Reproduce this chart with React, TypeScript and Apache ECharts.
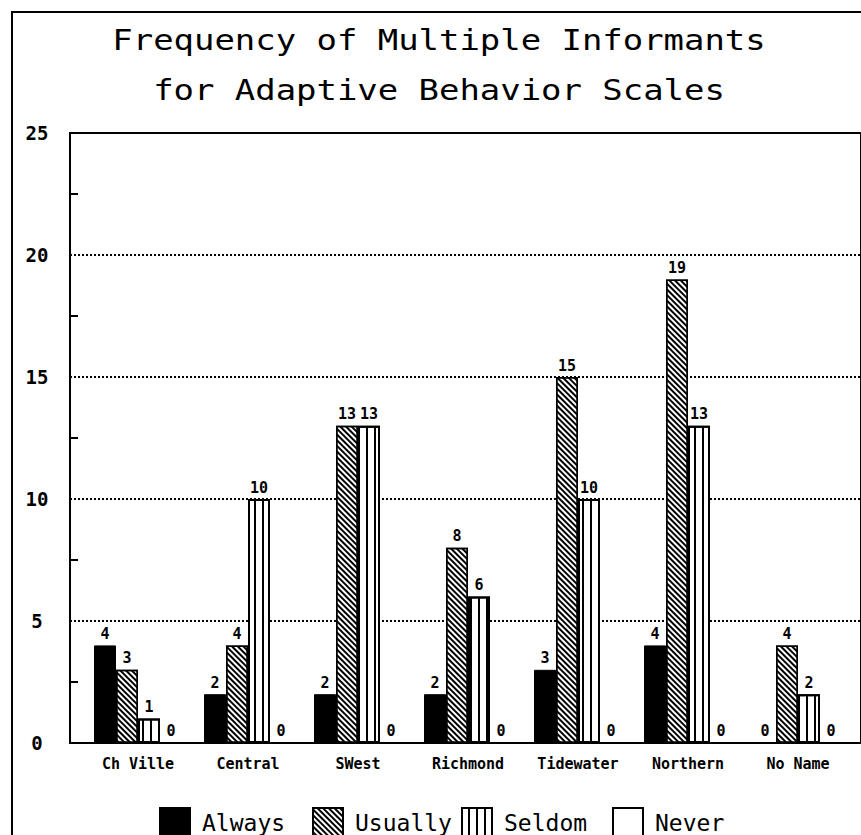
import React, { useEffect, useRef } from "react";
import * as echarts from "echarts";

const categories = ["Ch Ville", "Central", "SWest", "Richmond", "Tidewater", "Northern", "No Name"];
const always = [4, 2, 2, 2, 3, 4, 0];
const usually = [3, 4, 13, 8, 15, 19, 4];
const seldom = [1, 10, 13, 6, 10, 13, 2];
const never = [0, 0, 0, 0, 0, 0, 0];
const titleLines = ["Frequency of Multiple Informants", "for Adaptive Behavior Scales"];
const legendNames = ["Always", "Usually", "Seldom", "Never"];

const MONO = "'DejaVu Sans Mono', monospace";

export default function App() {
  const ref = useRef<HTMLDivElement>(null);
  useEffect(() => {
    const chart = echarts.init(ref.current!, null, { renderer: "svg" });
    const label = {
      show: true,
      position: "top",
      distance: 4,
      color: "#000",
      fontFamily: MONO,
      fontWeight: "bold",
      fontSize: 15,
    };
    const legendPos = [154, 307, 456, 607];
    const option: any = {
      animation: false,
      backgroundColor: "#fff",
      graphic: [
        {
          type: "rect",
          shape: { x: 12, y: 12, width: 900, height: 900 },
          style: { fill: "none", stroke: "#000", lineWidth: 2 },
          silent: true,
        },
        {
          type: "text",
          x: 439,
          y: 40,
          scaleX: 1.17,
          style: {
            text: titleLines[0],
            fontFamily: MONO,
            fontSize: 29,
            fill: "#000",
            textAlign: "center",
            textVerticalAlign: "middle",
          },
        },
        {
          type: "text",
          x: 439,
          y: 90,
          scaleX: 1.17,
          style: {
            text: titleLines[1],
            fontFamily: MONO,
            fontSize: 29,
            fill: "#000",
            textAlign: "center",
            textVerticalAlign: "middle",
          },
        },
      ],
      legend: legendNames.map((n, i) => ({
        data: [n],
        left: legendPos[i],
        top: 802,
        itemWidth: 30,
        itemHeight: 30,
        icon: "rect",
        selectedMode: false,
        textStyle: {
          fontFamily: MONO,
          fontSize: 23,
          color: "#000",
          padding: [0, 0, 0, 7],
        },
      })),
      grid: [
        {
          left: 70,
          top: 133,
          right: -30,
          bottom: 92,
          show: true,
          borderColor: "#000",
          borderWidth: 2,
          backgroundColor: "transparent",
        },
        { left: 83, top: 133, right: 8, bottom: 92 },
      ],
      xAxis: [
        { type: "value", gridIndex: 0, show: false, min: 0, max: 1 },
        {
          type: "category",
          gridIndex: 1,
          data: categories,
          axisLine: { show: false },
          axisTick: { show: false },
          axisLabel: {
            margin: 13,
            color: "#000",
            fontFamily: MONO,
            fontWeight: "bold",
            fontSize: 15,
          },
        },
      ],
      yAxis: [
        {
          type: "value",
          gridIndex: 0,
          min: 0,
          max: 25,
          interval: 5,
          axisLine: { show: true, lineStyle: { color: "#000", width: 2 } },
          axisTick: { show: false, inside: true },
          minorTick: { show: true, splitNumber: 2, length: 8, lineStyle: { color: "#000", width: 2 } },
          splitLine: { show: true, lineStyle: { color: "#000", width: 2, type: [2, 2] } },
          axisLabel: {
            margin: 33,
            align: "center",
            color: "#000",
            fontFamily: MONO,
            fontWeight: "bold",
            fontSize: 19,
          },
        },
        { type: "value", gridIndex: 1, min: 0, max: 25, show: false, splitLine: { show: false } },
      ],
      series: [
        {
          name: "Always",
          type: "bar",
          xAxisIndex: 1,
          yAxisIndex: 1,
          data: always,
          barWidth: 22,
          barGap: "0%",
          itemStyle: { color: "#000", borderColor: "#000", borderWidth: 1 },
          label,
        },
        {
          name: "Usually",
          type: "bar",
          xAxisIndex: 1,
          yAxisIndex: 1,
          data: usually,
          barWidth: 22,
          barGap: "0%",
          itemStyle: {
            color: "#fff",
            borderColor: "#000",
            borderWidth: 1.5,
            decal: {
              symbol: "rect",
              symbolSize: 1,
              color: "#000",
              dashArrayX: [1, 0],
              dashArrayY: [2, 2],
              rotation: Math.PI / 4,
            },
          },
          label,
        },
        {
          name: "Seldom",
          type: "bar",
          xAxisIndex: 1,
          yAxisIndex: 1,
          data: seldom,
          barWidth: 22,
          barGap: "0%",
          itemStyle: {
            color: "#fff",
            borderColor: "#000",
            borderWidth: 2,
            decal: {
              symbol: "rect",
              symbolSize: 1,
              color: "#000",
              dashArrayX: [1, 0],
              dashArrayY: [2, 6],
              rotation: Math.PI / 2,
            },
          },
          label,
        },
        {
          name: "Never",
          type: "bar",
          xAxisIndex: 1,
          yAxisIndex: 1,
          data: never,
          barWidth: 22,
          barGap: "0%",
          itemStyle: { color: "#fff", borderColor: "#000", borderWidth: 1.5 },
          label,
        },
      ],
    };
    chart.setOption(option);
    return () => chart.dispose();
  }, []);
  return (
    <div
      ref={ref}
      style={{ position: "fixed", left: 0, top: 0, width: 861, height: 835, background: "#fff" }}
    />
  );
}
